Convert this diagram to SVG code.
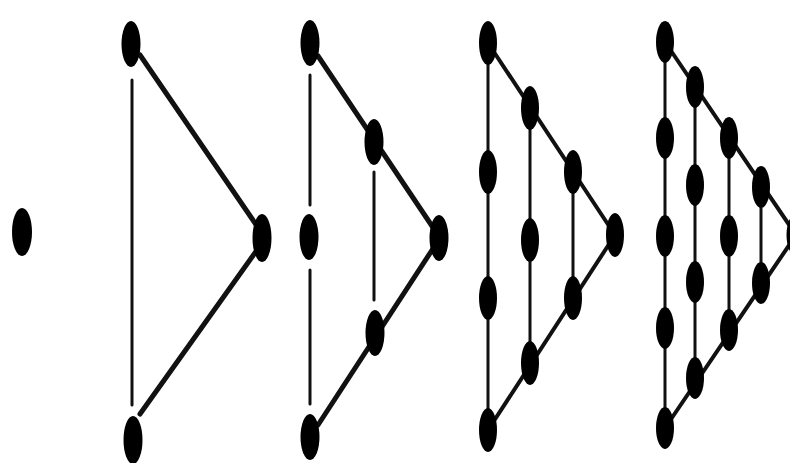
<svg xmlns="http://www.w3.org/2000/svg" width="790" height="463" viewBox="0 0 790 463">
<style>
.n{fill:#000}
.e{stroke:#111;stroke-linecap:round;fill:none}
.t{stroke-width:5}
.v{stroke-width:3}
.s{stroke-width:4}
</style>
<rect width="790" height="463" fill="#fff"/>
<g id="connectors">
<line class="e v" x1="132" y1="80" x2="132" y2="405"/>
<line class="e t" x1="140" y1="55" x2="257" y2="226"/>
<line class="e t" x1="257" y1="250" x2="140" y2="414"/>
<line class="e v" x1="310" y1="75" x2="310" y2="205"/>
<line class="e v" x1="310" y1="270" x2="310" y2="404"/>
<line class="e v" x1="374" y1="172" x2="374" y2="300"/>
<line class="e t" x1="318" y1="56" x2="436" y2="232"/>
<line class="e t" x1="436" y1="244" x2="318" y2="425"/>
<line class="e v" x1="488" y1="43" x2="488" y2="430"/>
<line class="e v" x1="530" y1="108" x2="530" y2="363"/>
<line class="e v" x1="573" y1="172" x2="573" y2="298"/>
<line class="e s" x1="488" y1="43" x2="615" y2="235"/>
<line class="e s" x1="615" y1="235" x2="488" y2="430"/>
<line class="e v" x1="665" y1="42" x2="665" y2="428"/>
<line class="e v" x1="695" y1="87" x2="695" y2="378"/>
<line class="e v" x1="729" y1="138" x2="729" y2="330"/>
<line class="e v" x1="761" y1="187" x2="761" y2="283"/>
<line class="e s" x1="665" y1="42" x2="796" y2="235"/>
<line class="e s" x1="796" y1="235" x2="665" y2="428"/>
</g>
<g id="fig1"><ellipse id="n1" class="n" cx="22" cy="232" rx="10" ry="24"/></g>
<g id="fig2">
<ellipse id="f2a" class="n" cx="131" cy="44" rx="9.5" ry="23"/>
<ellipse id="f2b" class="n" cx="262" cy="238" rx="9.5" ry="24"/>
<ellipse id="f2c" class="n" cx="133" cy="440" rx="9.5" ry="24"/>
</g>
<g id="fig3">
<ellipse id="f3a" class="n" cx="310" cy="43" rx="9.5" ry="23"/>
<ellipse id="f3b" class="n" cx="374" cy="142" rx="9.5" ry="23"/>
<ellipse id="f3c" class="n" cx="439" cy="238" rx="9.5" ry="23"/>
<ellipse id="f3d" class="n" cx="309" cy="237" rx="9.5" ry="23"/>
<ellipse id="f3e" class="n" cx="375" cy="333" rx="9.5" ry="23"/>
<ellipse id="f3f" class="n" cx="310" cy="437" rx="9.5" ry="23"/>
</g>
<g id="fig4">
<ellipse id="f4a" class="n" cx="488" cy="43" rx="9" ry="22"/>
<ellipse id="f4b" class="n" cx="488" cy="172" rx="9" ry="22"/>
<ellipse id="f4c" class="n" cx="488" cy="298" rx="9" ry="22"/>
<ellipse id="f4d" class="n" cx="488" cy="430" rx="9" ry="22"/>
<ellipse id="f4e" class="n" cx="530" cy="108" rx="9" ry="22"/>
<ellipse id="f4f" class="n" cx="530" cy="240" rx="9" ry="22"/>
<ellipse id="f4g" class="n" cx="530" cy="363" rx="9" ry="22"/>
<ellipse id="f4h" class="n" cx="573" cy="172" rx="9" ry="22"/>
<ellipse id="f4i" class="n" cx="573" cy="298" rx="9" ry="22"/>
<ellipse id="f4j" class="n" cx="615" cy="235" rx="9" ry="22"/>
</g>
<g id="fig5">
<ellipse id="f5a" class="n" cx="665" cy="42" rx="9" ry="21"/>
<ellipse id="f5b" class="n" cx="665" cy="138" rx="9" ry="21"/>
<ellipse id="f5c" class="n" cx="665" cy="236" rx="9" ry="21"/>
<ellipse id="f5d" class="n" cx="665" cy="328" rx="9" ry="21"/>
<ellipse id="f5e" class="n" cx="665" cy="428" rx="9" ry="21"/>
<ellipse id="f5f" class="n" cx="695" cy="87" rx="9" ry="21"/>
<ellipse id="f5g" class="n" cx="695" cy="185" rx="9" ry="21"/>
<ellipse id="f5h" class="n" cx="695" cy="282" rx="9" ry="21"/>
<ellipse id="f5i" class="n" cx="695" cy="378" rx="9" ry="21"/>
<ellipse id="f5j" class="n" cx="729" cy="138" rx="9" ry="21"/>
<ellipse id="f5k" class="n" cx="729" cy="236" rx="9" ry="21"/>
<ellipse id="f5l" class="n" cx="729" cy="330" rx="9" ry="21"/>
<ellipse id="f5m" class="n" cx="761" cy="187" rx="9" ry="21"/>
<ellipse id="f5n" class="n" cx="761" cy="283" rx="9" ry="21"/>
<ellipse id="f5o" class="n" cx="796" cy="235" rx="9.5" ry="21"/>
</g>
</svg>
